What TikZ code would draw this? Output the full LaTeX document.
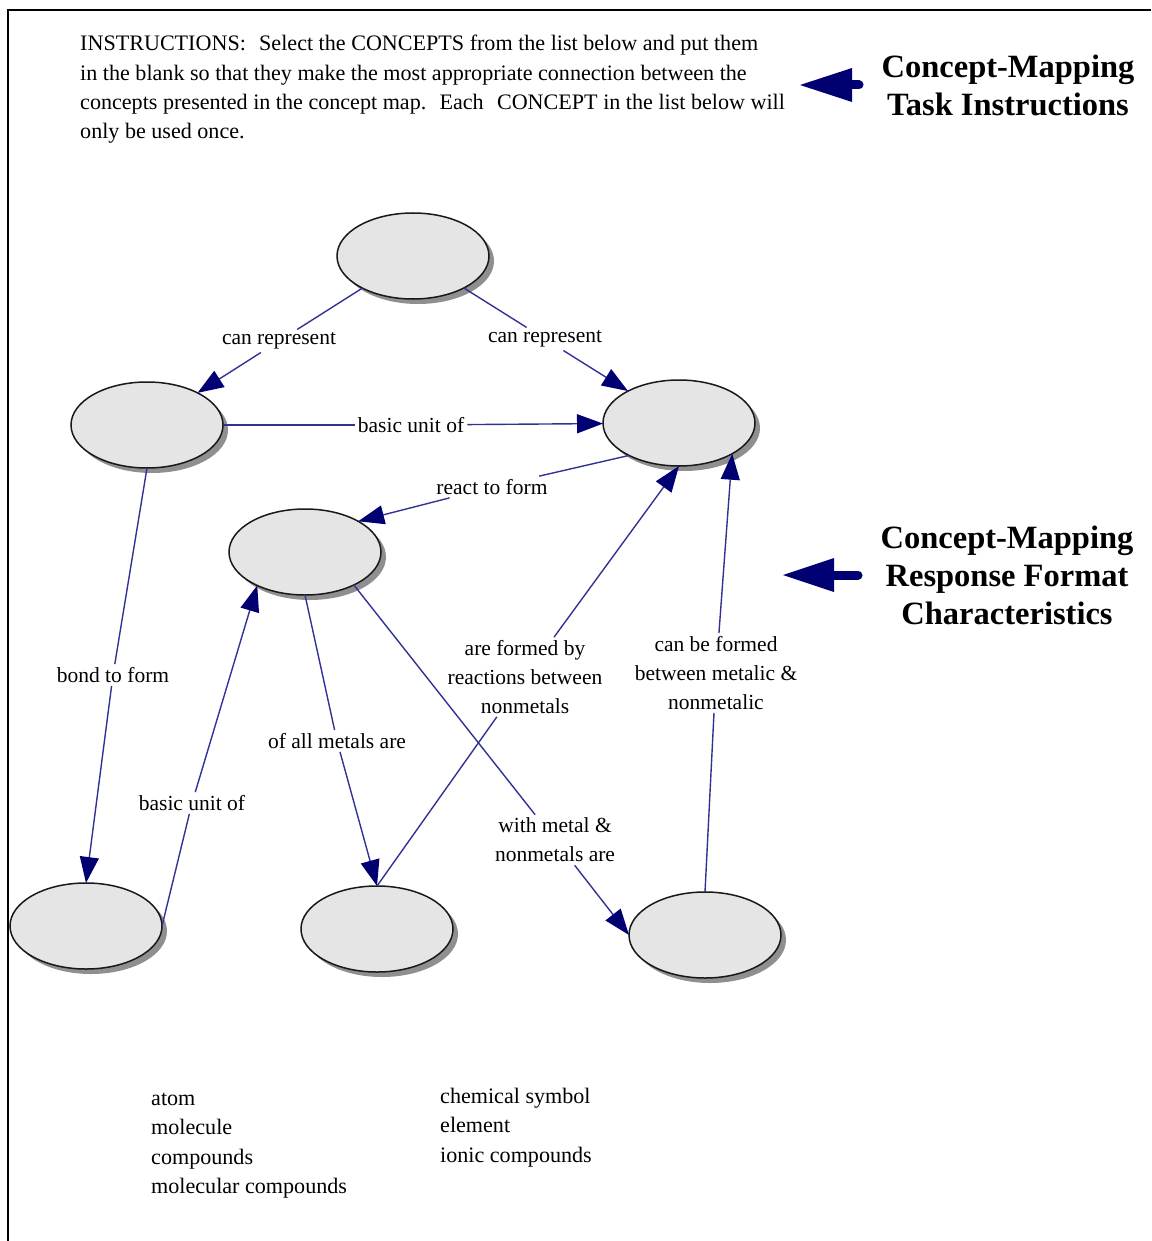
\documentclass[tikz,border=0pt]{standalone}
\usepackage{fontspec}
\setmainfont{Liberation Serif}
\usetikzlibrary{arrows.meta,shapes.geometric,shadows}

\definecolor{linkline}{RGB}{50,50,150}
\definecolor{linkhead}{RGB}{0,0,115}
\definecolor{bubble}{RGB}{229,229,229}

\begin{document}
\begin{tikzpicture}[x=1pt,y=-1pt,
  concept/.style={ellipse, draw=black!90, line width=1.5pt, fill=bubble,
    minimum width=152pt, minimum height=86pt, inner sep=0pt, outer sep=0pt,
    drop shadow={shadow xshift=5pt, shadow yshift=-5pt, fill=black!55, opacity=0.8}},
  linklabel/.style={font=\fontsize{21.5}{29}\selectfont, align=center, inner sep=3pt},
  conn/.style={draw=linkline, line width=1.4pt},
  arr/.style={conn, -{Triangle[length=26pt,width=19pt,color=linkhead,fill=linkhead]}},
  heading/.style={font=\bfseries\fontsize{32.5}{38}\selectfont, align=center},
  plain/.style={font=\fontsize{22.1}{29.3}\selectfont, align=left, inner sep=0pt, anchor=north west},
  pointer/.style={fill=linkhead},
  pointershaft/.style={draw=linkhead, line width=9pt, line cap=round}]

% page frame
\useasboundingbox (0,0) rectangle (1151,1241);
\draw[line width=2.6pt] (8,1241) -- (8,10) -- (1151,10);

% task instructions
\node[plain] (instr) at (80,35) {INSTRUCTIONS:\hspace{0.6em}Select the CONCEPTS from the list below and put them\\
in the blank so that they make the most appropriate connection between the\\
concepts presented in the concept map.\hspace{0.6em}Each\hspace{0.6em}CONCEPT in the list below will\\
only be used once.};

% side headings with pointers
\node[heading] (hA) at (1008,85) {Concept-Mapping\\Task Instructions};
\node[heading] (hB) at (1007,575) {Concept-Mapping\\Response Format\\Characteristics};

\coordinate (pA) at (800,85);
\fill[pointer] (pA) -- (852,68) -- (852,102) -- cycle;
\draw[pointershaft] (846,85) -- (859,85);
\coordinate (pB) at (783,575);
\fill[pointer] (pB) -- (834,558) -- (834,592) -- cycle;
\draw[pointershaft] (828,575) -- (858,575);

% concept bubbles
\node[concept] (top) at (413,256) {};
\node[concept] (lm)  at (147,425) {};
\node[concept] (rm)  at (679,423) {};
\node[concept] (mid) at (305,552) {};
\node[concept] (bl)  at (86,926) {};
\node[concept] (bm)  at (377,929) {};
\node[concept] (br)  at (705,935) {};

% linking phrases
\node[linklabel] (l1)  at (279,341) {can represent};
\node[linklabel] (l2)  at (545,339) {can represent};
\node[linklabel] (l3)  at (411,425) {basic unit of};
\node[linklabel] (l4)  at (492,487) {react to form};
\node[linklabel] (l5)  at (113,675) {bond to form};
\node[linklabel] (l6)  at (192,803) {basic unit of};
\node[linklabel] (l7)  at (337,741) {of all metals are};
\node[linklabel] (l8)  at (525,677) {are formed by\\reactions between\\nonmetals};
\node[linklabel] (l9)  at (555,840) {with metal \&\\nonmetals are};
\node[linklabel] (l10) at (716,673) {can be formed\\between metalic \&\\nonmetalic};

% connectors
\draw[conn] (top) -- (l1);  \draw[arr] (l1) -- (lm);
\draw[conn] (top) -- (l2);  \draw[arr] (l2) -- (rm);
\draw[conn] (lm) -- (l3);   \draw[arr] (l3) -- (rm);
\draw[conn] (rm.-147) -- (l4); \draw[arr] (l4) -- (mid.30);
\draw[conn] (lm.south) -- (l5); \draw[arr] (l5) -- (bl.north);
\draw[conn] (bl.east) -- (l6); \draw[arr] (l6) -- (mid.-145);
\draw[conn] (mid.south) -- (l7); \draw[arr] (l7) -- (bm.north);
\draw[conn] (bm.north) -- (l8); \draw[arr] (l8) -- (rm.south);
\draw[conn] (mid.-34) -- (l9); \draw[arr] (l9) -- (br.west);
\draw[conn] (br.north) -- (l10); \draw[arr] (l10) -- (rm.-30);

% concept list
\node[plain] (listA) at (151,1093) {atom\\molecule\\compounds\\molecular compounds};
\node[plain] (listB) at (440,1088) {chemical symbol\\element\\ionic compounds};
\end{tikzpicture}
\end{document}
